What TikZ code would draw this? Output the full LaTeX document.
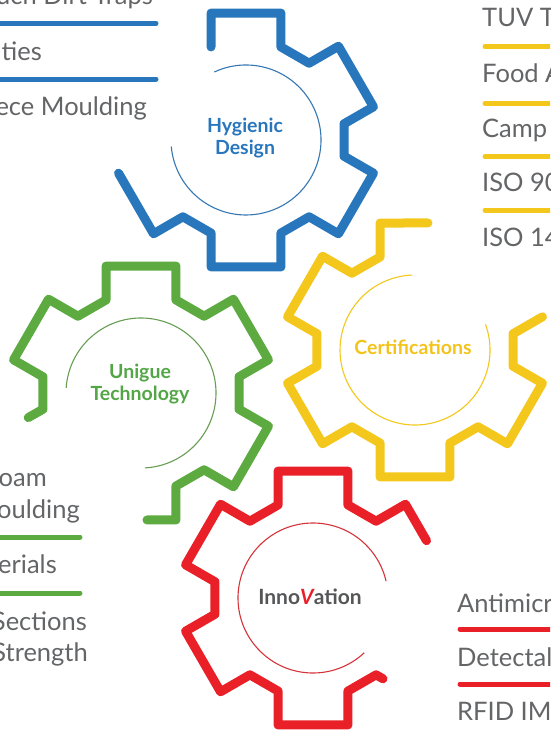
\documentclass[tikz,border=0pt]{standalone}
\usepackage{fontspec}
\setmainfont{Lato}

\definecolor{gblue}{RGB}{40,118,188}
\definecolor{gyellow}{RGB}{243,199,28}
\definecolor{ggreen}{RGB}{92,170,64}
\definecolor{gred}{RGB}{234,32,40}
\definecolor{txtgray}{RGB}{100,101,103}

\begin{document}
\begin{tikzpicture}[x=1pt, y=-1pt,
  gear/.style={line width=9pt, line join=round, line cap=round},
  ring/.style={line width=1.1pt},
  hub/.style={font=\bfseries\fontsize{19.5}{22}\selectfont, align=center},
  item/.style={font=\fontsize{25.5}{30}\selectfont, text=txtgray, inner sep=0pt},
  bar/.style={line width=5pt, line cap=round}
]
  \useasboundingbox (0,0) rectangle (550,736);
  \clip (0,0) rectangle (550,736);

  % hygienic design (blue)
  \begin{scope}[shift={(246,140)}]
    \draw[gear, gblue] (165.4:131.7) -- (134.6:131.7) -- (129.4:99.4)
      \foreach \a in {90,30,-30,-90} { -- (\a+20.6:99.4) -- (\a+15.4:131.7) -- (\a-15.4:131.7) -- (\a-20.6:99.4) };
    \draw[ring, gblue!85!gray] (245:75) arc[start angle=245, end angle=535, radius=75];
    \node[hub, text=gblue] (hyg) at (-1,-2) {Hygienic\\Design};
  \end{scope}

  % certifications (yellow)
  \begin{scope}[shift={(415,350)}]
    \draw[gear, gyellow] (275.8:127.7) -- (254.6:131.7) -- (249.4:99.4)
      \foreach \a in {210,150,90,30} { -- (\a+20.6:99.4) -- (\a+15.4:131.7) -- (\a-15.4:131.7) -- (\a-20.6:99.4) }
      -- (-9.4:99.4) -- (-14.6:131.7);
    \draw[ring, gyellow] (340:75) arc[start angle=340, end angle=628, radius=75];
    \node[hub, text=gyellow!95!orange] (cert) at (-2,-3) {Certifications};
  \end{scope}

  % unigue technology (green)
  \begin{scope}[shift={(141,393)}]
    \draw[gear, ggreen] (87.3:127.1) -- (74.6:131.7) -- (69.4:99.4)
      \foreach \a in {30,-30,-90,-150} { -- (\a+20.6:99.4) -- (\a+15.4:131.7) -- (\a-15.4:131.7) -- (\a-20.6:99.4) }
      -- (170.6:99.4) -- (167.7:115.4);
    \draw[ring, ggreen!70!gray] (184:75) arc[start angle=184, end angle=447, radius=75];
    \node[hub, text=ggreen!90!teal] (tech) at (-1,-9) {Unigue\\Technology};
  \end{scope}

  % innovation (red)
  \begin{scope}[shift={(313,598)}]
    \draw[gear, gred] (333.2:127.2) -- (314.6:131.7) -- (309.4:99.4)
      \foreach \a in {270,210,150,90} { -- (\a+20.6:99.4) -- (\a+15.4:131.7) -- (\a-15.4:131.7) -- (\a-20.6:99.4) }
      -- (50.6:99.4) -- (49.1:106.9);
    \draw[ring, gred!80!gray] (47:75) arc[start angle=47, end angle=347, radius=75];
    \node[hub, font=\bfseries\fontsize{21}{24}\selectfont, text=txtgray!85!black] (inno) at (-3,-1) {Inno{\color{gred}\itshape V}ation};
  \end{scope}

  % blue list, top left
  \node[item, anchor=base east] (b1) at (153,4.3) {uch Dirt Traps};
  \node[item, anchor=base east] (b2) at (42,60) {ities};
  \node[item, anchor=base east] (b3) at (147,115.7) {ece Moulding};
  \draw[bar, gblue] (-10,23.3) -- (156,23.3);
  \draw[bar, gblue] (-10,79) -- (156,79);

  % yellow list, top right
  \node[item, anchor=base west] (y1) at (482,27) {TUV T};
  \node[item, anchor=base west] (y2) at (482,82.5) {Food A};
  \node[item, anchor=base west] (y3) at (482,137) {Camp};
  \node[item, anchor=base west] (y4) at (482,191) {ISO 90};
  \node[item, anchor=base west] (y5) at (482,246) {ISO 14};
  \foreach \y in {46.7,103.3,156.7,210}
    \draw[bar, gyellow] (485,\y) -- (560,\y);

  % green list, bottom left
  \node[item, anchor=base east] (g1) at (47,486) {oam};
  \node[item, anchor=base east] (g2) at (80,518) {oulding};
  \node[item, anchor=base east] (g3) at (57,573) {erials};
  \node[item, anchor=base east] (g4) at (87,630) {Sections};
  \node[item, anchor=base east] (g5) at (88,661) {Strength};
  \draw[bar, ggreen] (-10,537) -- (80,537);
  \draw[bar, ggreen] (-10,593) -- (80,593);

  % red list, bottom right
  \node[item, anchor=base west] (r1) at (457,612) {Antimicr};
  \node[item, anchor=base west] (r2) at (457,666) {Detectal};
  \node[item, anchor=base west] (r3) at (457,720) {RFID IMI};
  \draw[bar, gred] (460,629) -- (560,629);
  \draw[bar, gred] (460,684) -- (560,684);
\end{tikzpicture}
\end{document}
